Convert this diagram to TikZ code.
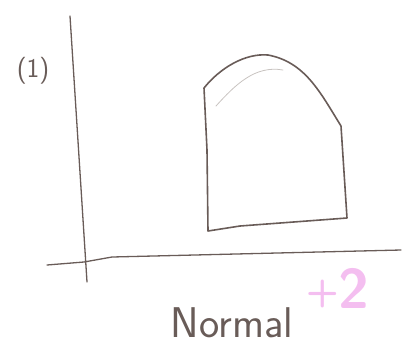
\documentclass[tikz,border=0pt]{standalone}
\usepackage{fontspec}
\usepackage{tikz}
\usetikzlibrary{arrows.meta, positioning, calc}
\definecolor{pencil}{RGB}{105,92,88}
\definecolor{marker}{RGB}{244,190,240}
\definecolor{faint}{RGB}{200,195,192}

\begin{document}
\begin{tikzpicture}[x=1pt, y=-1pt,
      axis/.style={draw=pencil, line width=1.3pt, line cap=round},
      curve/.style={draw=pencil, line width=1.6pt, line join=round, line cap=round},
      hint/.style={draw=faint, line width=0.8pt, line cap=round},
      lbl/.style={text=pencil, font=\sffamily\fontsize{43}{43}\selectfont, inner sep=0pt},
      score/.style={text=marker, font=\sffamily\bfseries\fontsize{56}{56}\selectfont, inner sep=0pt},
    ]
    \useasboundingbox (0,0) rectangle (409,360);
    % axes
    \coordinate (ytop) at (70,16);
    \coordinate (ybot) at (87,282);
    \coordinate (xleft) at (47,265);
    \coordinate (xright) at (401,250);
    \draw[axis] (ytop) -- (ybot);
    \draw[axis] (xleft) -- (84,262) -- (112,257) -- (xright);
    % curve
    \coordinate (tl) at (204,88);
    \coordinate (bl) at (208,231);
    \coordinate (br) at (347,218);
    \coordinate (tr) at (341,126);
    \draw[curve] (tl) -- (207,150) -- (bl) -- (240,226) -- (br) -- (tr)
      .. controls (320,92) and (305,62) .. (268,55)
      .. controls (245,53) and (220,68) .. (tl);
    \draw[hint] (216,106) .. controls (235,85) and (255,65) .. (283,70);
    % labels
    \node[lbl, font=\sffamily\fontsize{27}{27}\selectfont] (one) at (33,71) {(1)};
    \node[lbl] (normal) at (232,323) {Normal};
    \node[score] (plus) at (338,288) {\raisebox{5pt}{\fontsize{38}{38}\selectfont+}2};
  \end{tikzpicture}
\end{document}
